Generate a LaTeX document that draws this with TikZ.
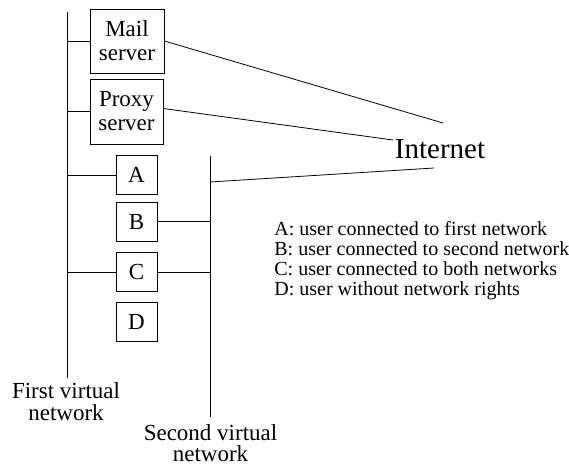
\documentclass[tikz,border=0pt]{standalone}
\usepackage{fontspec}
\setmainfont{Liberation Serif}
\begin{document}
\begin{tikzpicture}[x=1pt,y=-1pt,line width=0.8pt,
  box/.style={draw, inner sep=0pt, align=center, font=\fontsize{23}{24}\selectfont},
  netlabel/.style={align=center, anchor=base, inner sep=0pt, font=\fontsize{23}{21.5}\selectfont},
  legend/.style={align=left, anchor=base west, inner sep=0pt, font=\fontsize{20}{20}\selectfont}]
\useasboundingbox (0,0) rectangle (569,466);
% network backbones
\coordinate (n1top) at (67,12);
\coordinate (n1bot) at (67,378);
\coordinate (n2top) at (210,156);
\coordinate (n2bot) at (210,417);
\draw (n1top) -- (n1bot);
\draw (n2top) -- (n2bot);
% boxes
\node[box, minimum width=74pt, minimum height=64pt] (mail) at (127,41) {Mail\\server};
\node[box, minimum width=73pt, minimum height=65pt] (proxy) at (126.5,111.5) {Proxy\\server};
\node[box, minimum width=41pt, minimum height=39pt] (A) at (136.5,175) {A};
\node[box, minimum width=41pt, minimum height=39pt] (B) at (136.5,221.5) {B};
\node[box, minimum width=41pt, minimum height=39pt] (C) at (136.5,272) {C};
\node[box, minimum width=41pt, minimum height=39pt] (D) at (136.5,322) {D};
% connections
\draw (mail.west) -- (mail.west -| n1top);
\draw (proxy.west) -- (proxy.west -| n1top);
\draw (A.west) -- (A.west -| n1top);
\draw (C.west) -- (C.west -| n1top);
\draw (B.east) -- (B.east -| n2top);
\draw (C.east) -- (C.east -| n2top);
% Internet
\node[font=\fontsize{29}{30}\selectfont, inner sep=0pt, anchor=base] (inet) at (440,158) {Internet};
\coordinate (ia) at (443,123);
\coordinate (ib) at (393,140);
\coordinate (ic) at (434,168);
\coordinate (n2c) at (210,182);
\draw (mail.east) -- (ia);
\draw ([yshift=3pt]proxy.east) -- (ib);
\draw (n2c) -- (ic);
% labels
\node[netlabel] (lab1) at (66,420) {First virtual\\network};
\node[netlabel] (lab2) at (210.5,461.5) {Second virtual\\network};
\node[legend] (leg) at (274,295) {A: user connected to first network\\B: user connected to second network\\C: user connected to both networks\\D: user without network rights};
\end{tikzpicture}
\end{document}
